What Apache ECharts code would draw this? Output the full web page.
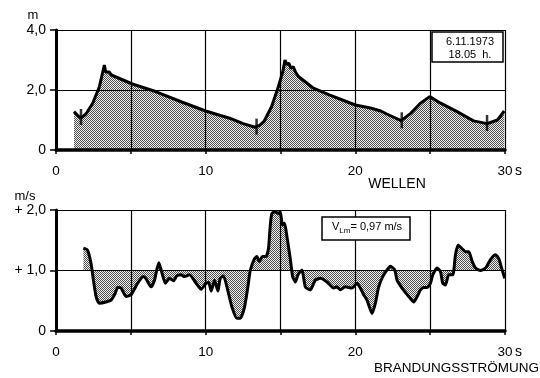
<!DOCTYPE html>
<html>
<head>
<meta charset="utf-8">
<script src="https://cdn.jsdelivr.net/npm/echarts@6.0.0/dist/echarts.min.js"></script>
<style>
  html, body { margin: 0; padding: 0; background: #fff; }
  #chart { width: 540px; height: 378px; }
</style>
</head>
<body>
<div id="chart"></div>
<script>
// wave height (m) over time (s)
const waveT = [1.2, 1.45, 1.67, 2.0, 2.45, 2.9, 3.1, 3.23, 3.32, 3.45, 3.55, 3.7, 5.1, 6.7, 8.4, 10.0, 11.6, 12.5, 13.3, 13.6, 13.9, 14.4, 14.85, 15.15, 15.3, 15.4, 15.55, 15.7, 15.85, 16.0, 16.2, 17.2, 18.3, 20.0, 21.0, 21.7, 22.1, 23.06, 23.7, 24.35, 24.97, 25.7, 26.8, 27.9, 28.8, 29.5, 29.95];
const waveH = [1.28, 1.15, 1.06, 1.2, 1.56, 2.11, 2.55, 2.83, 2.6, 2.55, 2.6, 2.5, 2.2, 1.94, 1.6, 1.3, 1.06, 0.88, 0.76, 0.82, 0.95, 1.44, 2.1, 2.6, 3.0, 2.85, 2.9, 2.72, 2.78, 2.6, 2.45, 2.06, 1.83, 1.5, 1.4, 1.3, 1.2, 0.98, 1.22, 1.56, 1.78, 1.56, 1.28, 0.97, 0.88, 1.0, 1.3];
// trough markers
const markT = [1.67, 13.4, 23.1, 28.8];
const markH = [1.1, 0.78, 0.99, 0.9];

// rip current velocity (m/s) over time (s)
const curT = [1.83, 2.1, 2.34, 2.5, 2.68, 2.9, 3.34, 3.68, 3.95, 4.13, 4.35, 4.68, 5.02, 5.46, 5.84, 6.02, 6.35, 6.58, 6.87, 7.09, 7.31, 7.58, 7.85, 8.07, 8.36, 8.58, 8.92, 9.36, 9.7, 10.03, 10.2, 10.37, 10.59, 10.82, 10.97, 11.19, 11.42, 11.75, 12.09, 12.31, 12.6, 12.82, 12.98, 13.27, 13.42, 13.58, 13.8, 14.03, 14.2, 14.31, 14.42, 14.65, 14.87, 14.98, 15.14, 15.27, 15.43, 15.65, 15.81, 15.99, 16.17, 16.43, 16.66, 16.99, 17.32, 17.66, 18.11, 18.55, 18.77, 19.0, 19.33, 19.78, 20.11, 20.33, 20.56, 20.78, 21.12, 21.34, 21.56, 21.83, 22.12, 22.34, 22.63, 22.79, 23.12, 23.57, 23.9, 24.13, 24.35, 24.57, 24.8, 25.02, 25.18, 25.46, 25.69, 25.84, 26.02, 26.24, 26.51, 26.69, 26.87, 27.09, 27.36, 27.58, 27.81, 28.03, 28.36, 28.7, 29.03, 29.36, 29.58, 29.81, 29.98];
const curV = [1.37, 1.34, 1.12, 0.84, 0.57, 0.46, 0.48, 0.51, 0.62, 0.72, 0.71, 0.57, 0.6, 0.79, 0.9, 0.86, 0.73, 0.84, 1.13, 0.95, 0.79, 0.87, 0.83, 0.91, 0.93, 0.9, 0.93, 0.79, 0.69, 0.79, 0.8, 0.66, 0.84, 0.66, 0.87, 0.91, 0.73, 0.4, 0.21, 0.21, 0.4, 0.73, 1.0, 1.2, 1.23, 1.15, 1.23, 1.23, 1.37, 1.73, 1.94, 1.97, 1.94, 1.97, 1.75, 1.78, 1.56, 1.2, 0.9, 0.81, 0.93, 1.01, 0.73, 0.68, 0.84, 0.87, 0.81, 0.71, 0.73, 0.68, 0.73, 0.71, 0.79, 0.71, 0.6, 0.51, 0.29, 0.46, 0.73, 0.9, 1.01, 1.07, 1.01, 0.84, 0.71, 0.57, 0.48, 0.57, 0.68, 0.72, 0.72, 0.79, 0.93, 1.04, 0.98, 0.79, 0.76, 0.93, 0.93, 1.26, 1.42, 1.37, 1.31, 1.31, 1.15, 1.04, 1.0, 1.04, 1.18, 1.26, 1.2, 1.01, 0.87];
const meanV = 1.0;

const xLabels = { 0: '0', 10: '10', 20: '20', 30: '30' };
const waveYLabels = { 0: '0', 2: '2,0', 4: '4,0' };
const curYLabels = { 0: '0', 1: '+ 1,0', 2: '+ 2,0' };

// stipple fill
const tile = document.createElement('canvas');
tile.width = 2; tile.height = 2;
const tctx = tile.getContext('2d');
tctx.fillStyle = '#f0f0f0';
tctx.fillRect(0, 0, 2, 2);
tctx.fillStyle = '#505050';
tctx.fillRect(0, 0, 1, 1);
tctx.fillRect(1, 1, 1, 1);
const stipple = { image: tile, repeat: 'repeat' };

const font = 'Liberation Sans';
const zip = (a, b) => a.map((v, i) => [v, b[i]]);

function xAxis(gridIndex) {
    return {
        type: 'value', gridIndex: gridIndex, min: 0, max: 30, interval: 5, z: 5,
        axisLine: { show: true, lineStyle: { color: '#000', width: 3.5 } },
        axisTick: { show: true, length: 4, lineStyle: { color: '#000', width: 1.5 } },
        axisLabel: {
            margin: 14, color: '#000', fontFamily: font, fontSize: 13.5,
            formatter: (v) => xLabels[v] || ''
        },
        splitLine: { show: true, lineStyle: { color: '#000', width: 1.2 } }
    };
}

function yAxis(gridIndex, max, interval, labels) {
    return {
        type: 'value', gridIndex: gridIndex, min: 0, max: max, interval: interval, z: 5,
        axisLine: { show: true, lineStyle: { color: '#000', width: 3 } },
        axisTick: { show: true, length: 6, lineStyle: { color: '#000', width: 1.5 } },
        axisLabel: {
            margin: 10, color: '#000', fontFamily: font, fontSize: 14,
            formatter: (v) => labels[v] || ''
        },
        splitLine: { show: true, lineStyle: { color: '#000', width: 1.2 } }
    };
}

const chart = echarts.init(document.getElementById('chart'));

const txt = (x, y, text, size, align) => ({
    type: 'text', x: x, y: y, z: 11,
    style: { text: text, font: size + 'px ' + font, fill: '#000', align: align || 'left', verticalAlign: 'middle' }
});

const option = {
    animation: false,
    backgroundColor: '#fff',
    grid: [
        { left: 56, top: 30, width: 449, height: 120 },
        { left: 56, top: 210, width: 449, height: 121 }
    ],
    xAxis: [xAxis(0), xAxis(1)],
    yAxis: [yAxis(0, 4, 2, waveYLabels), yAxis(1, 2, 1, curYLabels)],
    series: [
        {
            name: 'Wellen',
            type: 'line',
            xAxisIndex: 0, yAxisIndex: 0,
            data: zip(waveT, waveH),
            symbol: 'none',
            lineStyle: { color: '#000', width: 3 },
            areaStyle: { color: stipple, opacity: 1, origin: 'start' }
        },
        {
            name: 'Wellentaeler',
            type: 'scatter',
            xAxisIndex: 0, yAxisIndex: 0,
            data: zip(markT, markH),
            symbol: 'rect',
            symbolSize: [2.5, 16],
            itemStyle: { color: '#000' },
            z: 6
        },
        {
            name: 'Brandungsstroemung',
            type: 'line',
            xAxisIndex: 1, yAxisIndex: 1,
            data: zip(curT, curV),
            symbol: 'none',
            smooth: 0.2,
            lineStyle: { color: '#000', width: 3 },
            areaStyle: { color: stipple, opacity: 1, origin: meanV }
        }
    ],
    graphic: [
        txt(33, 15, 'm', 13, 'center'),
        txt(515, 171, 's', 14),
        txt(397, 184, 'WELLEN', 14, 'center'),
        { type: 'rect', shape: { x: 432, y: 32, width: 71, height: 30 }, style: { fill: '#fff', stroke: '#000', lineWidth: 1.5 }, z: 10 },
        txt(470, 42, '6.11.1973', 11, 'center'),
        txt(470, 55, '18.05  h.', 11, 'center'),
        txt(25, 196, 'm/s', 13, 'center'),
        { type: 'rect', shape: { x: 322, y: 217, width: 88, height: 23 }, style: { fill: '#fff', stroke: '#000', lineWidth: 1.5 }, z: 10 },
        {
            type: 'text', x: 332, y: 221, z: 11,
            style: {
                text: '{v|V}{s|Lm}{n|= 0,97 m/s}',
                rich: {
                    v: { font: '11px ' + font, fill: '#000', lineHeight: 14, verticalAlign: 'top' },
                    s: { font: '8px ' + font, fill: '#000', padding: [6, 0, 0, 0], verticalAlign: 'top' },
                    n: { font: '11px ' + font, fill: '#000', lineHeight: 14, verticalAlign: 'top' }
                }
            }
        },
        txt(515, 352, 's', 14),
        txt(539, 368, 'BRANDUNGSSTRÖMUNG', 13.5, 'right')
    ]
};

chart.setOption(option);
</script>
</body>
</html>
